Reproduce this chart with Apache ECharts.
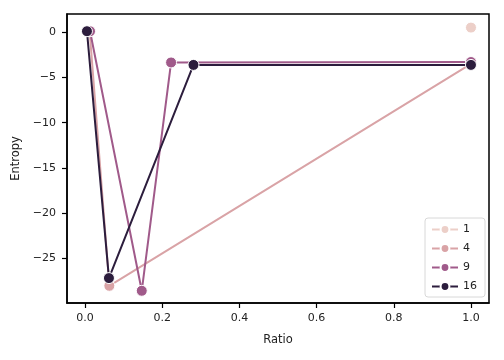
<!DOCTYPE html>
<html><head><meta charset="utf-8">
<script src="https://cdn.jsdelivr.net/npm/echarts@6/dist/echarts.min.js"></script>
<style>html,body{margin:0;padding:0;background:#fff}#c{width:504px;height:360px}</style>
</head><body><div id="c"></div>
<script>
const seriesNames = ["1", "4", "9", "16"];
const seriesColors = ["#eccfc8", "#d9a3a6", "#a05a8a", "#2c1d3d"];
const ratios1 = [1.0];
const entropy1 = [0.5];
const ratios4 = [0.012, 0.063, 1.0];
const entropy4 = [0.1, -28.0, -3.5];
const ratios9 = [0.013, 0.147, 0.223, 1.0];
const entropy9 = [0.1, -28.55, -3.35, -3.3];
const ratios16 = [0.005, 0.062, 0.281, 1.0];
const entropy16 = [0.1, -27.15, -3.62, -3.62];
const xTicks = [0, 0.2, 0.4, 0.6, 0.8, 1.0];
const yTicks = [0, -5, -10, -15, -20, -25];

const allX = [ratios1, ratios4, ratios9, ratios16];
const allY = [entropy1, entropy4, entropy9, entropy16];
const font = "DejaVu Sans";
const chart = echarts.init(document.getElementById('c'), null, {renderer: 'canvas'});
const series = seriesNames.map((n, i) => ({
  name: n,
  type: 'line',
  data: allX[i].map((x, j) => [x, allY[i][j]]),
  symbol: 'circle',
  symbolSize: 11,
  showSymbol: true,
  lineStyle: {color: seriesColors[i], width: 2},
  itemStyle: {color: seriesColors[i], borderColor: '#fff', borderWidth: 1},
  emphasis: {disabled: true},
  z: 2 + i,
  animation: false
}));
chart.setOption({
  animation: false,
  grid: {left: 67, right: 15, top: 14, bottom: 57, show: true, borderColor: '#000', borderWidth: 1.5, backgroundColor: 'transparent'},
  xAxis: {
    type: 'value', min: -0.0467, max: 1.0467,
    name: 'Ratio', nameLocation: 'middle', nameGap: 31,
    nameTextStyle: {fontFamily: font, fontSize: 11.5, color: '#222'},
    axisLine: {show: true, onZero: false, lineStyle: {color: '#000', width: 1.5}},
    axisTick: {show: true, length: 5, inside: false, customValues: xTicks, lineStyle: {color: '#000', width: 1.2}},
    axisLabel: {customValues: xTicks, formatter: v => v.toFixed(1), fontFamily: font, fontSize: 11, color: '#222', margin: 10},
    splitLine: {show: false}
  },
  yAxis: {
    type: 'value', min: -29.9, max: 2.0,
    name: 'Entropy', nameLocation: 'middle', nameGap: 38, nameRotate: 90,
    nameTextStyle: {fontFamily: font, fontSize: 11.5, color: '#222'},
    axisLine: {show: true, onZero: false, lineStyle: {color: '#000', width: 1.5}},
    axisTick: {show: true, length: 5, inside: false, customValues: yTicks, lineStyle: {color: '#000', width: 1.2}},
    axisLabel: {customValues: yTicks, formatter: v => (v < 0 ? '\u2212' + Math.abs(v) : String(v)), fontFamily: font, fontSize: 11, color: '#222', margin: 11},
    splitLine: {show: false}
  },
  legend: {
    data: seriesNames,
    orient: 'vertical',
    right: 19, bottom: 63,
    itemWidth: 26, itemHeight: 11, itemGap: 8,
    backgroundColor: '#fff', borderColor: '#d8d8d8', borderWidth: 1, borderRadius: 3,
    padding: [6, 8, 5, 6],
    textStyle: {fontFamily: font, fontSize: 11, color: '#222'},
    selectedMode: false
  },
  series: series
});
</script>
</body></html>
